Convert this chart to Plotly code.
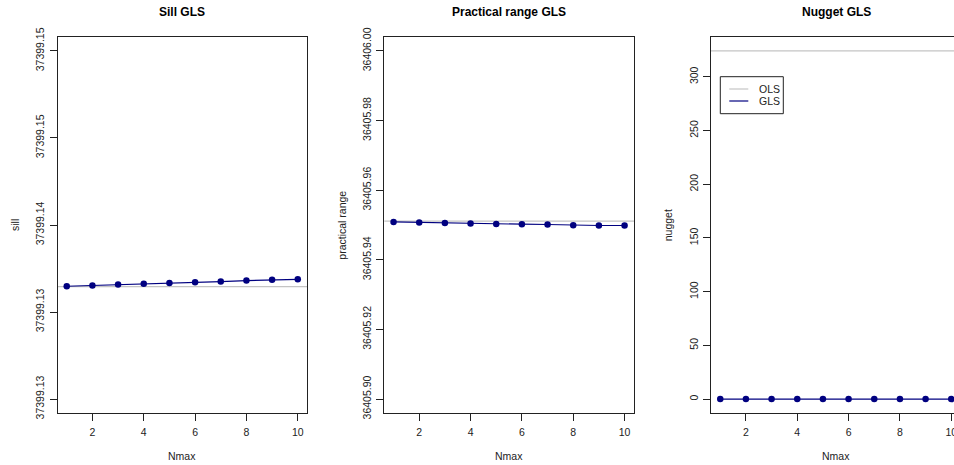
import plotly.graph_objects as go

# ---------------- data ----------------
nmax = [1, 2, 3, 4, 5, 6, 7, 8, 9, 10]

sill_gls = [37399.13648, 37399.13652, 37399.13658, 37399.13662, 37399.13667,
            37399.13671, 37399.13675, 37399.13681, 37399.13686, 37399.13688]
sill_ols = 37399.13646

range_gls = [36405.95089, 36405.95072, 36405.95060, 36405.95043, 36405.95032,
             36405.95023, 36405.95014, 36405.94994, 36405.94986, 36405.94986]
range_ols = 36405.95110

nugget_gls = [0, 0, 0, 0, 0, 0, 0, 0, 0, 0]
nugget_ols = 324.2

titles = ["Sill GLS", "Practical range GLS", "Nugget GLS"]
ylabels = ["sill", "practical range", "nugget"]
xlabel = "Nmax"

x_tickvals = [2, 4, 6, 8, 10]
x_ticktext = ["2", "4", "6", "8", "10"]

sill_tickvals = [37399.13, 37399.135, 37399.14, 37399.145, 37399.15]
sill_ticktext = ["37399.13", "37399.13", "37399.14", "37399.15", "37399.15"]

range_tickvals = [36405.90, 36405.92, 36405.94, 36405.96, 36405.98, 36406.00]
range_ticktext = ["36405.90", "36405.92", "36405.94", "36405.96", "36405.98", "36406.00"]

nugget_tickvals = [0, 50, 100, 150, 200, 250, 300]
nugget_ticktext = ["0", "50", "100", "150", "200", "250", "300"]

legend_labels = ["OLS", "GLS"]

# ---------------- styling ----------------
W, H = 954, 465
FONT = "Liberation Sans, Arial, Helvetica, sans-serif"
NAVY = "#000080"
GREY = "#c4c4c4"
AXC = "#222222"

box_top, box_bot = 37, 413
panels_px = [(57.5, 307.0), (384.3, 634.0), (711.0, 961.0)]
px_per_unit = (307.0 - 57.5) / (10.36 - 0.64)

ydom = [1 - box_bot / H, 1 - box_top / H]


def expand(lo, hi):
    d = (hi - lo) * 0.04
    return [lo - d, hi + d]


yranges = [expand(37399.13, 37399.15), expand(36405.90, 36406.00), expand(0, nugget_ols)]
ytv = [sill_tickvals, range_tickvals, nugget_tickvals]
ytt = [sill_ticktext, range_ticktext, nugget_ticktext]
gls_series = [sill_gls, range_gls, nugget_gls]
ols_values = [sill_ols, range_ols, nugget_ols]

fig = go.Figure()
shapes = []
annotations = []

for i in range(3):
    k = "" if i == 0 else str(i + 1)
    xa, ya = "x" + k, "y" + k
    left, right = panels_px[i]
    right_c = min(right, W)
    xdom = [left / W, right_c / W]
    xr = [0.64, 0.64 + (right_c - left) / px_per_unit]

    # OLS reference line
    shapes.append(dict(type="line", xref=xa + " domain", yref=ya,
                       x0=0, x1=1, y0=ols_values[i], y1=ols_values[i],
                       line=dict(color=GREY, width=1.2), layer="below"))

    fig.add_trace(go.Scatter(
        x=nmax, y=gls_series[i], mode="lines+markers", xaxis=xa, yaxis=ya,
        line=dict(color=NAVY, width=1.2),
        marker=dict(color=NAVY, size=6.5, line=dict(width=0)),
        showlegend=False, cliponaxis=True))

    fig.update_layout(**{
        ("xaxis" + k): dict(domain=xdom, range=xr, anchor=ya, automargin=False,
                            tickvals=x_tickvals, ticktext=x_ticktext,
                            ticks="outside", ticklen=7, tickcolor=AXC,
                            showline=True, linecolor=AXC, linewidth=1,
                            mirror=True, showgrid=False, zeroline=False,
                            ticklabelstandoff=2, ticklabeloverflow="allow",
                            tickfont=dict(family=FONT, size=10.5, color=AXC)),
        ("yaxis" + k): dict(domain=ydom, range=yranges[i], anchor=xa, automargin=False,
                            tickvals=ytv[i], ticktext=ytt[i], tickangle=-90,
                            ticks="outside", ticklen=7, tickcolor=AXC,
                            showline=True, linecolor=AXC, linewidth=1,
                            mirror=(i < 2), showgrid=False, zeroline=False,
                            ticklabelstandoff=1, ticklabeloverflow="allow",
                            tickfont=dict(family=FONT, size=10.5, color=AXC)),
    })

    cx = (left + right) / 2
    # panel title
    annotations.append(dict(text="<b>" + titles[i] + "</b>", xref="paper", yref="paper",
                            x=cx / W, y=1 - 12 / H, showarrow=False,
                            xanchor="center", yanchor="middle",
                            font=dict(family=FONT, size=12, color="#000")))
    # x label
    annotations.append(dict(text=xlabel, xref="paper", yref="paper",
                            x=cx / W, y=1 - 456 / H, showarrow=False,
                            xanchor="center", yanchor="middle",
                            font=dict(family=FONT, size=10.5, color=AXC)))

ylab_x = [15, 341.7, 668.3]
for i in range(3):
    annotations.append(dict(text=ylabels[i], xref="paper", yref="paper",
                            x=ylab_x[i] / W, y=1 - 225 / H, textangle=-90,
                            showarrow=False, xanchor="center", yanchor="middle",
                            font=dict(family=FONT, size=10.5, color=AXC)))

# legend (panel 3)
lg_l, lg_r, lg_t, lg_b = 720.3, 783.3, 76.7, 113.7
shapes.append(dict(type="rect", xref="paper", yref="paper",
                   x0=lg_l / W, x1=lg_r / W, y0=1 - lg_b / H, y1=1 - lg_t / H,
                   line=dict(color=AXC, width=1), fillcolor="white"))
legend_colors = [GREY, NAVY]
legend_y = [89, 101]
for j in range(2):
    shapes.append(dict(type="line", xref="paper", yref="paper",
                       x0=729.3 / W, x1=748.3 / W,
                       y0=1 - legend_y[j] / H, y1=1 - legend_y[j] / H,
                       line=dict(color=legend_colors[j], width=1.2)))
    annotations.append(dict(text=legend_labels[j], xref="paper", yref="paper",
                            x=757 / W, y=1 - legend_y[j] / H, showarrow=False,
                            xanchor="left", yanchor="middle",
                            font=dict(family=FONT, size=10.5, color=AXC)))

fig.update_layout(width=W, height=H, margin=dict(l=0, r=0, t=0, b=0),
                  paper_bgcolor="white", plot_bgcolor="white",
                  shapes=shapes, annotations=annotations, showlegend=False)

fig.write_html("out.html", config={"displayModeBar": False},
               post_script="document.body.style.margin='0';document.body.style.overflow='hidden';")
